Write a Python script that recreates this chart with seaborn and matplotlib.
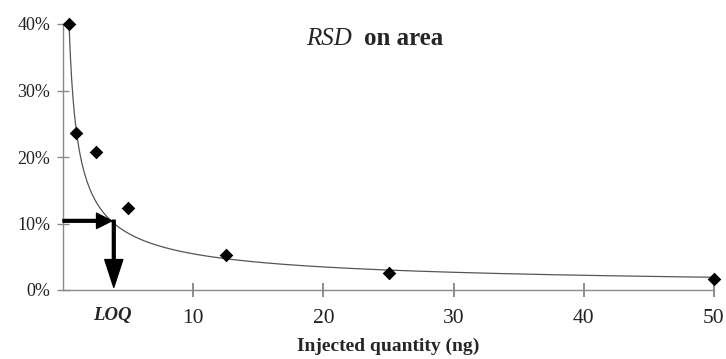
import numpy as np
import pandas as pd
import matplotlib
matplotlib.use("Agg")
import matplotlib.pyplot as plt
import seaborn as sns
from matplotlib.ticker import PercentFormatter

# ---- data ----
quantity_ng = [0.45, 1.0, 2.5, 5.0, 12.5, 25.0, 50.0]
rsd_area = [0.400, 0.236, 0.208, 0.123, 0.053, 0.025, 0.0165]
# power-law trendline shown on the chart (RSD = coef * q^exp)
trend_coef = 0.243
trend_exp = -0.65
loq_ng = 3.9
loq_rsd = 0.104
x_ticks = [10, 20, 30, 40, 50]
y_ticks = [0.0, 0.1, 0.2, 0.3, 0.4]

sns.set_style("white")
plt.rcParams["font.family"] = ["Liberation Serif", "DejaVu Serif"]

fig = plt.figure(figsize=(7.26, 3.59), dpi=100)
ax = fig.add_axes([63 / 726, 69 / 359, 651 / 726, 266 / 359])

df = pd.DataFrame({"q": quantity_ng, "rsd": rsd_area})
q_start = (0.40 / trend_coef) ** (1 / trend_exp)
q_grid = np.linspace(q_start, 50, 500)
trend = pd.DataFrame({"q": q_grid, "rsd": trend_coef * q_grid ** trend_exp})

sns.lineplot(data=trend, x="q", y="rsd", ax=ax, color="#555555", lw=0.9)
sns.scatterplot(data=df, x="q", y="rsd", ax=ax, marker="D", s=48,
                color="black", edgecolor="black", linewidth=0, zorder=5,
                clip_on=False)

ax.set_xlim(0, 50)
ax.set_ylim(0, 0.40)
ax.set_xticks(x_ticks)
ax.set_yticks(y_ticks)
ax.yaxis.set_major_formatter(PercentFormatter(1.0, decimals=0))

for side in ["top", "right"]:
    ax.spines[side].set_visible(False)
for side in ["left", "bottom"]:
    ax.spines[side].set_color("#8a8a8a")
    ax.spines[side].set_linewidth(1.0)

ax.tick_params(axis="x", bottom=True, direction="inout", length=10, width=1.2,
               color="#7a7a7a", labelsize=15.5, pad=9, labelcolor="#222222")
ax.tick_params(axis="y", left=True, direction="inout", length=8, width=1.0,
               color="#8a8a8a", labelsize=13, pad=5, labelcolor="#222222")
ax.set_ylabel("")
ax.set_xlabel("Injected quantity (ng)", fontsize=14, fontweight="bold", labelpad=7)

# LOQ arrows
ax.annotate("", xy=(loq_ng - 0.15, loq_rsd), xytext=(0, loq_rsd),
            arrowprops=dict(facecolor="black", edgecolor="black", width=2.0,
                            headwidth=11, headlength=11, shrink=0),
            annotation_clip=False)
ax.annotate("", xy=(loq_ng, 0.004), xytext=(loq_ng, loq_rsd + 0.001),
            arrowprops=dict(facecolor="black", edgecolor="black", width=2.0,
                            headwidth=13, headlength=20, shrink=0),
            annotation_clip=False)
ax.text(loq_ng - 0.1, -0.038, "LOQ", fontsize=13.5, fontweight="bold",
        fontstyle="italic", ha="center", va="center", clip_on=False)

# title: italic RSD + bold "on area"
fig.text(352 / 726, 1 - 45 / 359, "RSD", fontsize=18, fontstyle="italic",
         ha="right", va="baseline")
fig.text(364 / 726, 1 - 45 / 359, "on area", fontsize=18, fontweight="bold",
         ha="left", va="baseline")

fig.savefig("out.png", dpi=100)
